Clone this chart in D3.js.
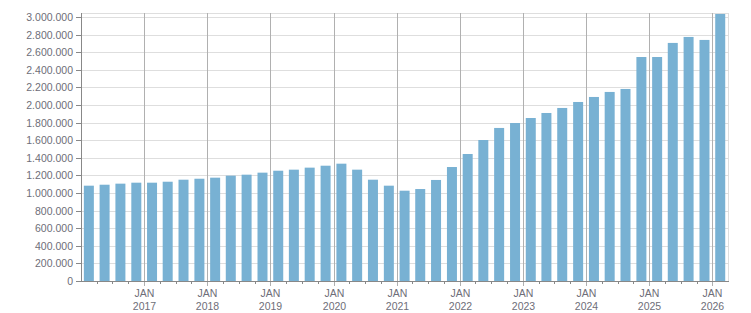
<!DOCTYPE html>
<html>
<head>
<meta charset="utf-8">
<script src="https://cdn.jsdelivr.net/npm/d3@7"></script>
<style>
  body { margin: 0; background: #fff; }
  svg text { font-family: Tahoma, "Liberation Sans", Arial, sans-serif; font-size: 10.5px; fill: #6e6e78; }
</style>
</head>
<body>
<div id="chart"></div>
<script>
// quarterly values, Q1 2016 .. Q1 2026
var quarters = [
  "2016-01","2016-04","2016-07","2016-10",
  "2017-01","2017-04","2017-07","2017-10",
  "2018-01","2018-04","2018-07","2018-10",
  "2019-01","2019-04","2019-07","2019-10",
  "2020-01","2020-04","2020-07","2020-10",
  "2021-01","2021-04","2021-07","2021-10",
  "2022-01","2022-04","2022-07","2022-10",
  "2023-01","2023-04","2023-07","2023-10",
  "2024-01","2024-04","2024-07","2024-10",
  "2025-01","2025-04","2025-07","2025-10",
  "2026-01"
];
var values = [
  1083000,1094000,1106000,1117000,
  1117000,1128000,1151000,1162000,
  1174000,1197000,1208000,1231000,
  1253000,1265000,1288000,1310000,
  1333000,1265000,1151000,1083000,
  1026000,1045000,1148000,1295000,
  1443000,1602000,1739000,1795000,
  1852000,1909000,1966000,2034000,
  2091000,2148000,2182000,2545000,
  2545000,2705000,2773000,2739000,
  3034000
];
var yTicks = [0,200000,400000,600000,800000,1000000,1200000,1400000,1600000,
  1800000,2000000,2200000,2400000,2600000,2800000,3000000];
var yearTicks = ["2017","2018","2019","2020","2021","2022","2023","2024","2025","2026"];

var W = 751, H = 313;
var pLeft = 81, pRight = 728, pTop = 13, pBottom = 281;

var parseMonth = d3.timeParse("%Y-%m");
var data = quarters.map(function(q, i){
  var s = parseMonth(q);
  return {start: s, end: d3.timeMonth.offset(s, 3), value: values[i]};
});

var x = d3.scaleTime()
  .domain([data[0].start, data[data.length-1].end])
  .range([pLeft, pRight]);
var y = d3.scaleLinear().domain([0, 3045000]).range([pBottom, pTop]);

var loc = d3.formatLocale({decimal: ",", thousands: ".", grouping: [3], currency: ["", ""]});
var fmt = loc.format(",d");

var svg = d3.select("#chart").append("svg")
  .attr("width", W).attr("height", H);

// horizontal grid
svg.append("g").selectAll("line")
  .data(yTicks.filter(function(d){ return d > 0; }))
  .enter().append("line")
  .attr("x1", pLeft).attr("x2", pRight)
  .attr("y1", function(d){ return Math.round(y(d)) + 0.5; })
  .attr("y2", function(d){ return Math.round(y(d)) + 0.5; })
  .attr("stroke", "#dedede");

// frame top / right
svg.append("line").attr("x1", pLeft).attr("x2", pRight).attr("y1", pTop + 0.5).attr("y2", pTop + 0.5).attr("stroke", "#dedede");
svg.append("line").attr("x1", pRight + 0.5).attr("x2", pRight + 0.5).attr("y1", pTop).attr("y2", pBottom).attr("stroke", "#dedede");

// year lines
var years = yearTicks.map(function(t){ return d3.timeParse("%Y")(t); });
svg.append("g").selectAll("line")
  .data(years).enter().append("line")
  .attr("x1", function(d){ return Math.round(x(d)) + 0.5; })
  .attr("x2", function(d){ return Math.round(x(d)) + 0.5; })
  .attr("y1", pTop).attr("y2", pBottom + 5)
  .attr("stroke", "#b0b0b0");

// bars
var bw = 10;
svg.append("g").selectAll("rect")
  .data(data).enter().append("rect")
  .attr("x", function(d){ return (x(d.start) + x(d.end)) / 2 - bw / 2; })
  .attr("width", bw)
  .attr("y", function(d){ return y(d.value); })
  .attr("height", function(d){ return pBottom - y(d.value); })
  .attr("fill", "#78b1d3");

// quarter minor ticks
svg.append("g").selectAll("line")
  .data(data.filter(function(d){ return d.start.getMonth() !== 0; }))
  .enter().append("line")
  .attr("x1", function(d){ return Math.round(x(d.start)) + 0.5; })
  .attr("x2", function(d){ return Math.round(x(d.start)) + 0.5; })
  .attr("y1", pBottom).attr("y2", pBottom + 3)
  .attr("stroke", "#888");

// axes lines
svg.append("line").attr("x1", pLeft + 0.5).attr("x2", pLeft + 0.5).attr("y1", pTop).attr("y2", pBottom + 1).attr("stroke", "#888");
svg.append("line").attr("x1", pLeft).attr("x2", pRight + 1).attr("y1", pBottom + 0.5).attr("y2", pBottom + 0.5).attr("stroke", "#888");

// y ticks + labels
var yg = svg.append("g").selectAll("g").data(yTicks).enter().append("g")
  .attr("transform", function(d){ return "translate(0," + (Math.round(y(d)) + 0.5) + ")"; });
yg.append("line").attr("x1", pLeft - 5).attr("x2", pLeft).attr("stroke", "#888");
yg.append("text").attr("x", pLeft - 8).attr("dy", "0.35em")
  .attr("text-anchor", "end").text(function(d){ return fmt(d); });

// x labels
var xg = svg.append("g").selectAll("g").data(years).enter().append("g")
  .attr("transform", function(d){ return "translate(" + (Math.round(x(d)) + 0.5) + ",0)"; });
xg.append("text").attr("y", 297).attr("text-anchor", "middle").text("JAN");
xg.append("text").attr("y", 310).attr("text-anchor", "middle").text(function(d){ return d.getFullYear(); });
</script>
</body>
</html>
